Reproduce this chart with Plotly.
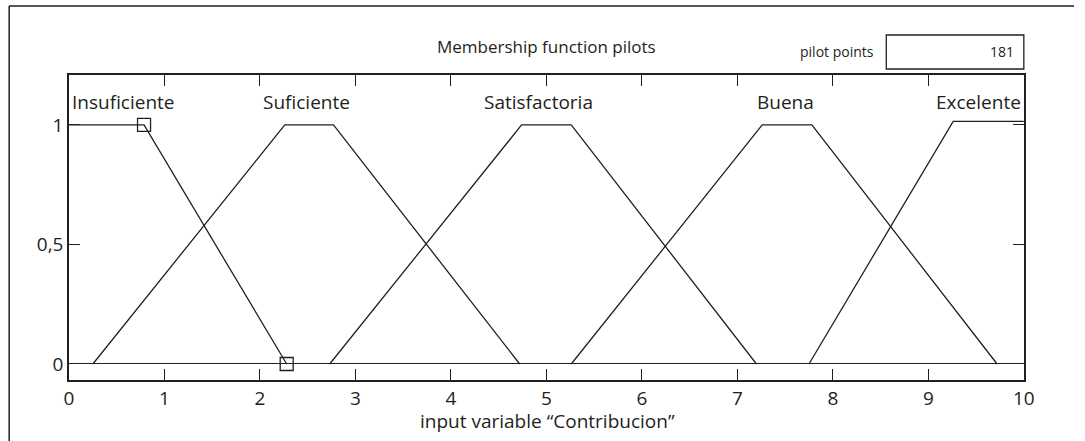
import plotly.graph_objects as go

# ---- data ----
mf_names = ["Insuficiente", "Suficiente", "Satisfactoria", "Buena", "Excelente"]
mf_x = [
    [0.0, 0.786, 2.28],
    [0.25, 2.26, 2.77, 4.72],
    [2.73, 4.74, 5.26, 7.2],
    [5.26, 7.26, 7.78, 9.72],
    [7.75, 9.26, 10.0],
]
mf_y = [
    [1, 1, 0],
    [0, 1, 1, 0],
    [0, 1, 1, 0],
    [0, 1, 1, 0],
    [0, 1.015, 1.015],
]
pilot_x = [0.786, 2.28]
pilot_y = [1, 0]
x_ticks = [0, 1, 2, 3, 4, 5, 6, 7, 8, 9, 10]
y_ticks = [0, 0.5, 1]
y_tick_text = ["0", "0,5", "1"]
pilot_points = 181

# label positions (data coords)
label_x = [0.57, 2.49, 4.92, 7.5, 9.52]
label_y = 1.095

W, H = 1085, 441
INK = "#231f20"
FONT = "Open Sans"

# horizontal correction for the page capture (measured from earlier runs)
SX, OX = 0.9885, 2.8

def px(x):
    return ((x - OX) / SX) / W

def py(y):
    return (H - y) / H

fig = go.Figure()
for name, xs, ys in zip(mf_names, mf_x, mf_y):
    fig.add_trace(go.Scatter(x=xs, y=ys, mode="lines", name=name,
                             line=dict(color=INK, width=1.3), hoverinfo="skip"))
fig.add_trace(go.Scatter(x=pilot_x, y=pilot_y, mode="markers",
                         marker=dict(symbol="square-open", size=13, color=INK,
                                     line=dict(width=1.3, color=INK)),
                         hoverinfo="skip"))

def ann(x, y, text, size, xanchor="center"):
    return dict(x=x, y=y, xref="paper", yref="paper", text=text, showarrow=False,
                xanchor=xanchor, yanchor="middle",
                font=dict(size=size, color=INK, family=FONT))

annotations = []
for name, lx in zip(mf_names, label_x):
    annotations.append(dict(x=lx, y=label_y, xref="x", yref="y", text=name,
                            xanchor="center", yanchor="middle",
                            showarrow=False, font=dict(size=19, color=INK, family=FONT)))
annotations += [
    ann(px(546), py(46), "Membership function pilots", 17),
    ann(px(877), py(51), "pilot points", 14, "right"),
    ann(px(1017), py(52), str(pilot_points), 14, "right"),
    ann(px(547), py(421), "input variable \u201cContribucion\u201d", 19),
]

shapes = [
    # outer frame (open at right and bottom, as in the cropped reference)
    dict(type="line", xref="paper", yref="paper", x0=px(7), x1=1, y0=py(6), y1=py(6),
         line=dict(color=INK, width=1.5)),
    dict(type="line", xref="paper", yref="paper", x0=px(7), x1=px(7), y0=0, y1=py(6),
         line=dict(color=INK, width=1.5)),
    # pilot points box
    dict(type="rect", xref="paper", yref="paper", x0=px(887), x1=px(1025), y0=py(69), y1=py(35),
         line=dict(color=INK, width=1.3)),
]

fig.update_layout(
    width=W, height=H,
    margin=dict(l=0, r=0, t=0, b=0),
    paper_bgcolor="white", plot_bgcolor="white",
    showlegend=False,
    font=dict(family=FONT, color=INK, size=19),
    annotations=annotations,
    shapes=shapes,
    xaxis=dict(domain=[px(67), px(1025)], range=[0, 10], tickvals=x_ticks,
               ticks="inside", ticklen=11, tickcolor=INK, tickwidth=1,
               showline=True, linecolor=INK, linewidth=1.5, mirror="ticks",
               showgrid=False, zeroline=False,
               tickfont=dict(size=19, color=INK, family=FONT)),
    yaxis=dict(domain=[py(380), py(75)], range=[-0.067, 1.209], tickvals=y_ticks,
               ticktext=y_tick_text,
               ticks="inside", ticklen=11, tickcolor=INK, tickwidth=1,
               showline=True, linecolor=INK, linewidth=1.5, mirror="ticks",
               showgrid=False, zeroline=True, zerolinecolor=INK, zerolinewidth=1.3,
               tickfont=dict(size=19, color=INK, family=FONT)),
)

fig.write_html(
    "out.html",
    config={"displayModeBar": False},
    post_script="document.body.style.margin='0';document.body.style.overflow='hidden';",
)
